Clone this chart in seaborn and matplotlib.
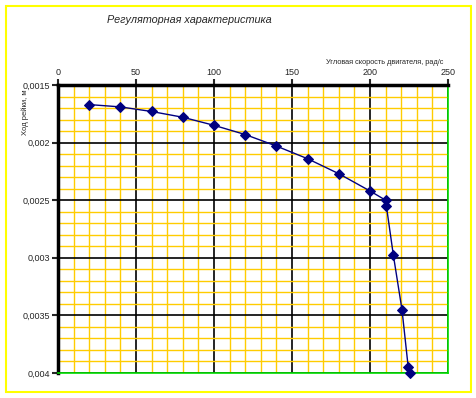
import matplotlib
matplotlib.use('Agg')
import matplotlib.pyplot as plt
import seaborn as sns
import numpy as np
import pandas as pd
from matplotlib.patches import Rectangle
from matplotlib.ticker import FuncFormatter

# Data
speed = [20, 40, 60, 80, 100, 120, 140, 160, 180, 200, 210, 210.5, 215, 220.5, 224.5, 225.5]
rack = [0.00167, 0.00169, 0.00173, 0.00178, 0.00185, 0.00193, 0.00203, 0.00214,
        0.00227, 0.00242, 0.00250, 0.00255, 0.00298, 0.00345, 0.00395, 0.00400]
x_ticks = [0, 50, 100, 150, 200, 250]
y_ticks = [0.0015, 0.002, 0.0025, 0.003, 0.0035, 0.004]

df = pd.DataFrame({'speed': speed, 'rack': rack})

sns.set_style('white')
plt.rcParams['font.family'] = ['Liberation Sans', 'DejaVu Sans']

fig = plt.figure(figsize=(4.77, 3.98), dpi=100)
ax = fig.add_axes([58 / 477, 1 - 373 / 398, 390 / 477, 288 / 398])

sns.lineplot(data=df, x='speed', y='rack', sort=False, ax=ax, color='#000080',
             linewidth=1, marker='D', markersize=5, markeredgecolor='#000080',
             markerfacecolor='#000080', zorder=5, clip_on=False)

ax.set_xlim(0, 250)
ax.set_ylim(0.004, 0.0015)

ax.set_xticks(x_ticks)
ax.set_xticks(np.arange(0, 251, 10), minor=True)
ax.set_yticks(y_ticks)
ax.set_yticks(np.arange(15, 41) / 10000, minor=True)
ax.yaxis.set_major_formatter(FuncFormatter(lambda v, p: ('%g' % round(v, 5)).replace('.', ',')))

ax.grid(which='minor', color='#FFCC00', linewidth=1.0, zorder=0)
ax.grid(which='major', color='black', linewidth=1.2, zorder=1)
ax.set_axisbelow(True)

ax.xaxis.tick_top()
ax.xaxis.set_label_position('top')
ax.tick_params(axis='x', which='major', top=True, bottom=False, direction='out',
               length=4, width=1.5, labelsize=6.5, pad=2)
ax.tick_params(axis='y', which='major', left=True, direction='out',
               length=4, width=1.5, labelsize=6.5, pad=2)
ax.tick_params(which='minor', length=0)

for side in ['left', 'top']:
    ax.spines[side].set_color('black')
    ax.spines[side].set_linewidth(2.5)
for side in ['right', 'bottom']:
    ax.spines[side].set_color('#00DD00')
    ax.spines[side].set_linewidth(1.2)

ax.set_xlabel('')
ax.set_ylabel('')
fig.text(443 / 477, 1 - 62 / 398, 'Угловая скорость двигателя, рад/с',
         ha='right', va='center', fontsize=5.3)
fig.text(25 / 477, 1 - 112 / 398, 'Ход рейки, м', rotation=90,
         ha='center', va='center', fontsize=5.5)
fig.text(189 / 477, 1 - 20 / 398, 'Регуляторная характеристика',
         ha='center', va='center', fontsize=7.8, style='italic')

fig.patches.append(Rectangle((6 / 477, 6 / 398), 465 / 477, 386 / 398,
                             transform=fig.transFigure, fill=False,
                             edgecolor='#FFFF00', linewidth=1.5))

fig.savefig('out.png', dpi=100)
